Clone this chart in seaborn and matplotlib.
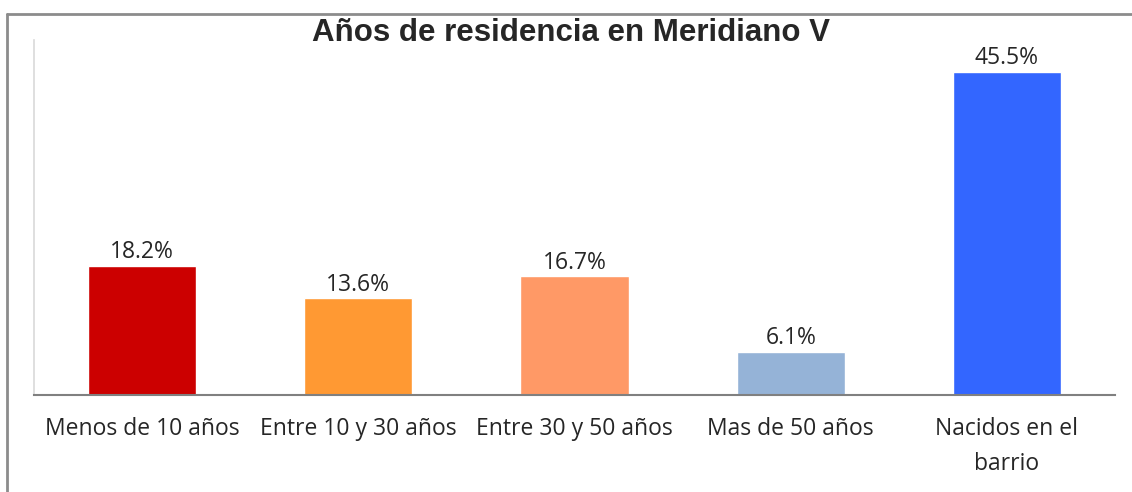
import matplotlib.pyplot as plt
import seaborn as sns
import pandas as pd
from matplotlib.lines import Line2D

categorias = ["Menos de 10 años", "Entre 10 y 30 años", "Entre 30 y 50 años",
              "Mas de 50 años", "Nacidos en el\nbarrio"]
porcentajes = [18.2, 13.6, 16.7, 6.1, 45.5]
colores = ["#CC0000", "#FF9933", "#FF9966", "#95B3D7", "#3366FF"]

df = pd.DataFrame({"cat": categorias, "pct": porcentajes})

sns.set_theme(style="white")
plt.rcParams['font.family'] = ['Open Sans', 'DejaVu Sans']

f = plt.figure(figsize=(11.32, 4.92), dpi=100)
ax = f.add_axes([0.030, 0.197, 0.955, 0.722])

sns.barplot(data=df, x="cat", y="pct", hue="cat", palette=colores,
            width=0.5, saturation=1, legend=False, ax=ax)

for i, v in enumerate(porcentajes):
    ax.text(i, v + 0.2, f"{v:.1f}%", ha="center", va="bottom",
            fontsize=16.5, color="#262626")

ax.set_ylim(0, 50)
ax.set_xlim(-0.5, 4.5)
ax.set_yticks([])
ax.set_xlabel("")
ax.set_ylabel("")
ax.tick_params(axis="x", length=0, labelsize=16.5, colors="#262626", pad=16)
for lab in ax.get_xticklabels():
    lab.set_linespacing(1.6)

for s in ["top", "right"]:
    ax.spines[s].set_visible(False)
ax.spines["left"].set_color("#d9d9d9")
ax.spines["left"].set_linewidth(1.2)
ax.spines["bottom"].set_color("#808080")
ax.spines["bottom"].set_linewidth(1.5)

f.text(0.504, 0.932, "Años de residencia en Meridiano V", ha="center", va="center",
       fontsize=22.5, fontweight="bold", family=["Liberation Sans", "DejaVu Sans"])

# marco exterior (solo izquierda y arriba)
f.add_artist(Line2D([0.0065, 0.0065], [0.0, 0.972], transform=f.transFigure,
                    color="#8c8c8c", lw=2))
f.add_artist(Line2D([0.0065, 1.0], [0.972, 0.972], transform=f.transFigure,
                    color="#8c8c8c", lw=2))

f.savefig("out.png", dpi=100)
